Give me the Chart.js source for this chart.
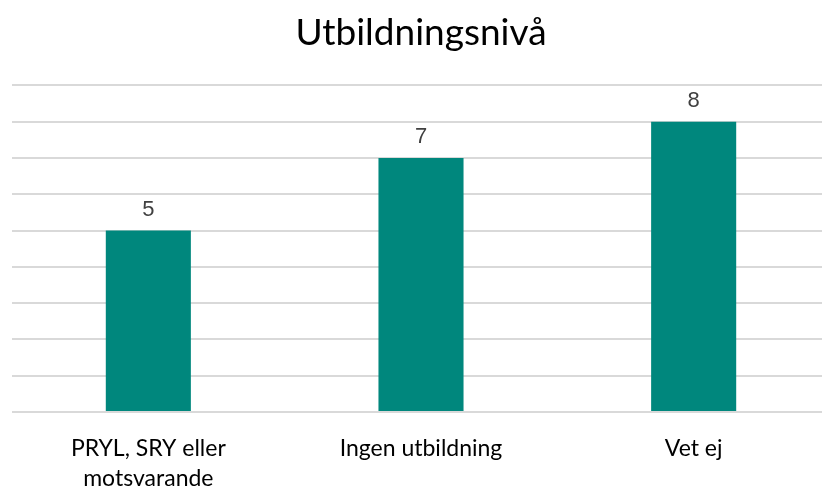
<!DOCTYPE html>
<html lang="sv">
<head>
  <meta charset="UTF-8">
  <title>Utbildningsnivå</title>
  <script src="https://cdn.jsdelivr.net/npm/chart.js"></script>
  <style>
    body { margin: 0; background: #fff; overflow: hidden; }
    #wrap { width: 822px; height: 490px; overflow: hidden; }
  </style>
</head>
<body>
  <div id="wrap"><canvas id="chart" width="830" height="490"></canvas></div>

  <script>
    // Data
    const categories = [['PRYL, SRY eller', 'motsvarande'], 'Ingen utbildning', 'Vet ej'];
    const values = [5, 7, 8];
    const yMax = 9;

    // value labels above bars
    const valueLabels = {
      id: 'valueLabels',
      afterDatasetsDraw(chart) {
        const ctx = chart.ctx;
        const meta = chart.getDatasetMeta(0);
        ctx.save();
        ctx.font = '22px "Liberation Sans", Arial, sans-serif';
        ctx.fillStyle = '#404040';
        ctx.textAlign = 'center';
        ctx.textBaseline = 'bottom';
        meta.data.forEach((bar, i) => {
          ctx.fillText(values[i], bar.x, bar.y - 10);
        });
        ctx.restore();
      }
    };

    new Chart(document.getElementById('chart'), {
      type: 'bar',
      data: {
        labels: categories,
        datasets: [{
          data: values,
          backgroundColor: '#00877d',
          categoryPercentage: 1,
          barPercentage: 0.312
        }]
      },
      options: {
        responsive: false,
        animation: false,
        layout: { padding: { left: 12, right: 0, bottom: 0 } },
        plugins: {
          legend: { display: false },
          tooltip: { enabled: false },
          title: {
            display: true,
            text: 'Utbildningsnivå',
            color: '#000',
            font: { family: 'Lato', size: 37, weight: 'normal' },
            padding: { top: 11, bottom: 30 }
          }
        },
        scales: {
          x: {
            grid: { display: false, drawTicks: false },
            border: { display: false },
            afterFit(scale) { scale.height = 78; },
            ticks: {
              color: '#000',
              padding: 22,
              font: { family: 'Lato', size: 23, lineHeight: 1.3 }
            }
          },
          y: {
            min: 0,
            max: yMax,
            ticks: { display: false, stepSize: 1 },
            grid: { color: '#d9d9d9', lineWidth: 2, drawTicks: false },
            border: { display: false }
          }
        }
      },
      plugins: [valueLabels]
    });
  </script>
</body>
</html>
